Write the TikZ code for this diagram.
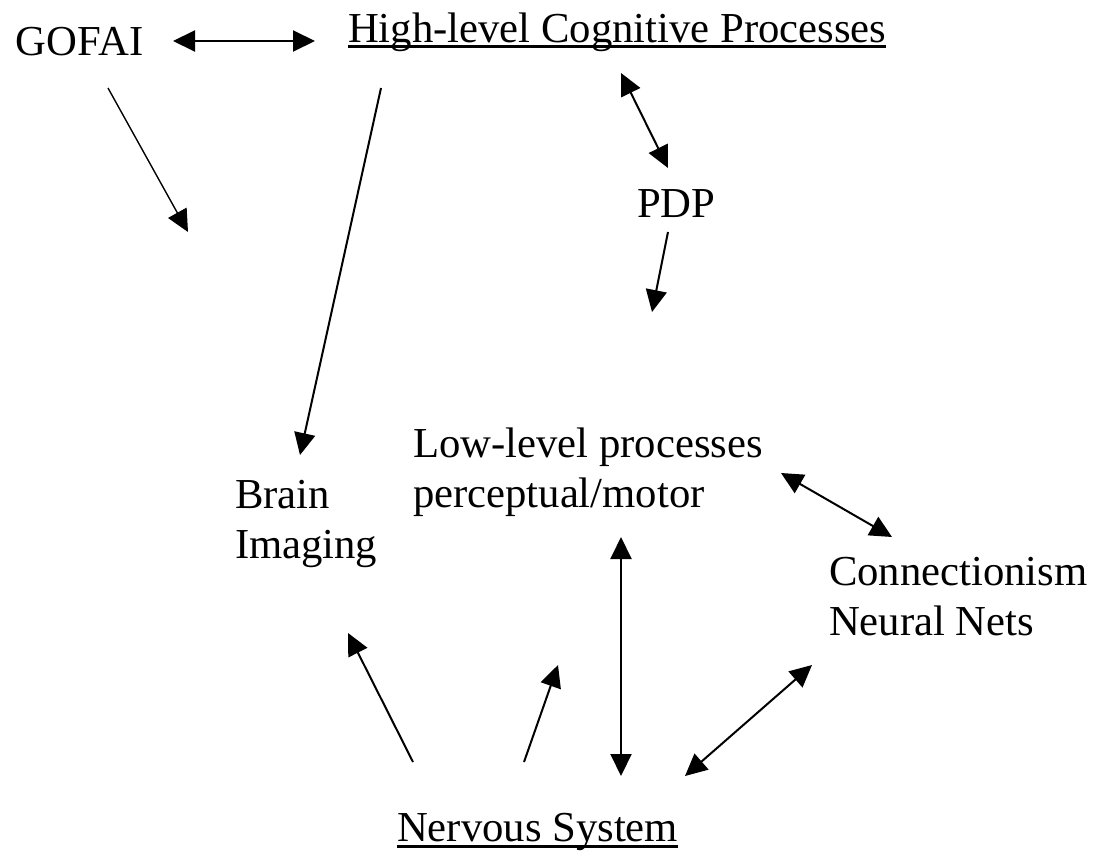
\documentclass[tikz,border=0pt]{standalone}
\usepackage{fontspec}
\setmainfont{Liberation Serif}
\usetikzlibrary{arrows.meta}
\tikzset{
  lbl/.style={anchor=base west, inner sep=0pt, outer sep=0pt, font=\fontsize{42.7pt}{50pt}\selectfont},
  mytip/.tip={Triangle[length=22pt,width=21pt]},
  conn/.style={line width=2pt, -mytip},
  bconn/.style={line width=2pt, mytip-mytip},
  thinconn/.style={line width=1.4pt, -mytip},
  uline/.style={line width=3pt}
}
\begin{document}
\begin{tikzpicture}[x=1pt,y=-1pt]
\useasboundingbox (0,0) rectangle (1094,851);
% labels
\node[lbl] (gofai) at (16,56) {GOFAI};
\node[lbl] (high) at (348,42) {High-level Cognitive Processes};
\node[lbl] (pdp) at (637,217) {PDP};
\node[lbl] (low) at (413,457) {\begin{tabular}[t]{@{}l@{}}Low-level processes\\perceptual/motor\end{tabular}};
\node[lbl] (brain) at (235,508) {\begin{tabular}[t]{@{}l@{}}Brain\\Imaging\end{tabular}};
\node[lbl] (conn) at (829,585) {\begin{tabular}[t]{@{}l@{}}Connectionism\\Neural Nets\end{tabular}};
\node[lbl] (nerv) at (397,841) {Nervous System};
% underlines
\draw[uline] ([yshift=-4.5pt]high.base west) -- ([yshift=-4.5pt]high.base east);
\draw[uline] ([yshift=-5pt]nerv.base west) -- ([yshift=-5pt]nerv.base east);
% connector end points
\coordinate (a1) at (173,41); \coordinate (a2) at (315,41);
\coordinate (b1) at (108,88); \coordinate (b2) at (188,232);
\coordinate (c1) at (381,88); \coordinate (c2) at (300,455);
\coordinate (d1) at (621,73); \coordinate (d2) at (668,168);
\coordinate (e1) at (668,232); \coordinate (e2) at (652,312);
\coordinate (f1) at (781,473); \coordinate (f2) at (892,537);
\coordinate (g1) at (621,537); \coordinate (g2) at (621,776);
\coordinate (h1) at (413,762); \coordinate (h2) at (348,633);
\coordinate (i1) at (524,762); \coordinate (i2) at (558,665);
\coordinate (j1) at (685,776); \coordinate (j2) at (812,665);
% connectors
\draw[bconn] (a1) -- (a2);
\draw[thinconn] (b1) -- (b2);
\draw[conn] (c1) -- (c2);
\draw[bconn] (d1) -- (d2);
\draw[conn] (e1) -- (e2);
\draw[bconn] (f1) -- (f2);
\draw[bconn] (g1) -- (g2);
\draw[conn] (h1) -- (h2);
\draw[conn] (i1) -- (i2);
\draw[bconn] (j1) -- (j2);
\end{tikzpicture}
\end{document}
